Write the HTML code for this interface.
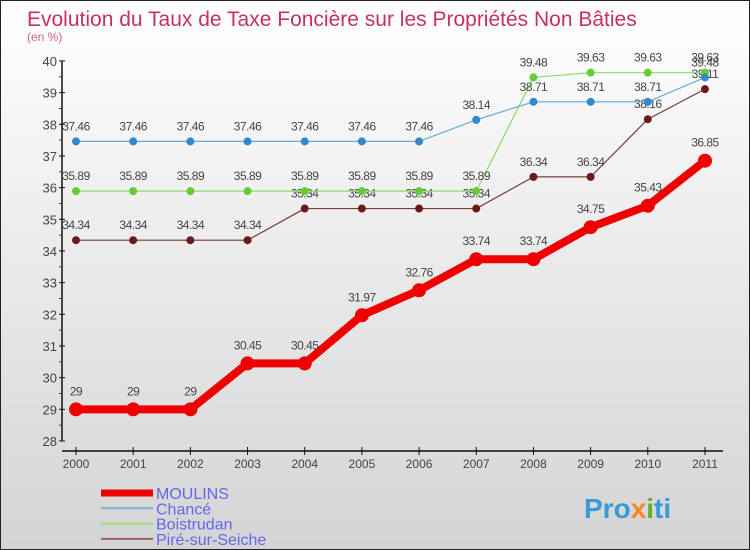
<!DOCTYPE html>
<html><head><meta charset="utf-8"><style>
body{margin:0;}
#c{width:750px;height:550px;position:relative;overflow:hidden;box-sizing:border-box;border:1px solid #222;background:linear-gradient(#ffffff,#d4d4d4);font-family:"Liberation Sans",sans-serif;}
svg{position:absolute;left:0;top:0}
</style></head><body>
<div id="c">
<svg id="s" width="750" height="550">
<text x="26" y="25" font-size="21" fill="#c8305f">Evolution du Taux de Taxe Foncière sur les Propriétés Non Bâties</text>
<text x="26" y="40" font-size="12" fill="#d0608a">(en %)</text>
<g id="axes"></g><g id="series"></g><g id="legend"></g>
<text x="583" y="517" font-size="28" font-weight="bold" fill="#3a9ad8">Pro<tspan fill="#f08a20">x</tspan><tspan fill="#60b030">i</tspan>ti</text>
</svg>
</div>
<script>
const years=[2000,2001,2002,2003,2004,2005,2006,2007,2008,2009,2010,2011];
const yTicks=[28,29,30,31,32,33,34,35,36,37,38,39,40];
const moulins=[29,29,29,30.45,30.45,31.97,32.76,33.74,33.74,34.75,35.43,36.85];
const chance=[37.46,37.46,37.46,37.46,37.46,37.46,37.46,38.14,38.71,38.71,38.71,39.48];
const boistrudan=[35.89,35.89,35.89,35.89,35.89,35.89,35.89,35.89,39.48,39.63,39.63,39.63];
const pire=[34.34,34.34,34.34,34.34,35.34,35.34,35.34,35.34,36.34,36.34,38.16,39.11];
const NS="http://www.w3.org/2000/svg";
const X=i=>75+i*57.18;
const Y=v=>440-(v-28)*31.67;
function mk(tag,attrs,parent,txt){const e=document.createElementNS(NS,tag);for(const k in attrs)e.setAttribute(k,attrs[k]);if(txt!==undefined)e.textContent=txt;parent.appendChild(e);return e;}
const ax=document.getElementById('axes');
let e=mk('line',{x1:61,y1:Y(40),x2:61,y2:Y(28),stroke:'#111','stroke-width':1.5},ax);


yTicks.forEach((t,i)=>{
 let l=mk('line',{x1:58,y1:Y(t),x2:64,y2:Y(t),stroke:'#111'},ax);
 
 
 let tx=mk('text',{x:56,y:Y(t)+5,'text-anchor':'end','font-size':13,fill:'#444'},ax,String(t));
 
 
 if(i<yTicks.length-1){let m=mk('line',{x1:58,y1:Y(t+0.5),x2:61,y2:Y(t+0.5),stroke:'#d00'},ax);
 
 }
});
e=mk('line',{x1:61,y1:450,x2:722,y2:450,stroke:'#111','stroke-width':1.5},ax);


years.forEach((yr,i)=>{
 let l=mk('line',{x1:X(i),y1:446,x2:X(i),y2:454,stroke:'#111'},ax);
 
 
 let tx=mk('text',{x:X(i),y:467,'text-anchor':'middle','font-size':12,fill:'#444'},ax,String(yr));
 
 
});
const sg=document.getElementById('series');
function series(name,vals,color,w,r,dot){
 const g=mk('g',{},sg);
 
 
 const p=mk('polyline',{points:vals.map((v,i)=>X(i)+','+Y(v)).join(' '),fill:'none',stroke:color,'stroke-width':w,'stroke-linejoin':'round'},g);
 
 
 vals.forEach((v,i)=>{
  const c=mk('circle',{cx:X(i),cy:Y(v),r:r,fill:dot},g);
  
  
  const t=mk('text',{x:X(i),y:Y(v)-(r+7),'text-anchor':'middle','font-size':12,fill:'#444','letter-spacing':'-0.5'},g,String(v));
  
  
 });
}
series('pire-sur-seiche',pire,'#7a3a3a',1.2,4,'#6a1a1a');
series('boistrudan',boistrudan,'#88dd66',1.2,4,'#66cc33');
series('chance',chance,'#66aadd',1.2,4,'#3388cc');
series('moulins',moulins,'#ee0000',8,7,'#ee0000');
const lg=document.getElementById('legend');
const leg=[['MOULINS','#ee0000',7],['Chancé','#7aaed0',2],['Boistrudan','#99dd77',2],['Piré-sur-Seiche','#9a6060',2]];
leg.forEach((d,i)=>{
 const y=492+i*15.3;
 const l=mk('line',{x1:100,y1:y,x2:152,y2:y,stroke:d[1],'stroke-width':d[2]},lg);
 
 
 const t=mk('text',{x:155,y:y+6,'font-size':16,fill:'#6666ee'},lg,d[0]);
 
 
});
</script>
</body></html>
